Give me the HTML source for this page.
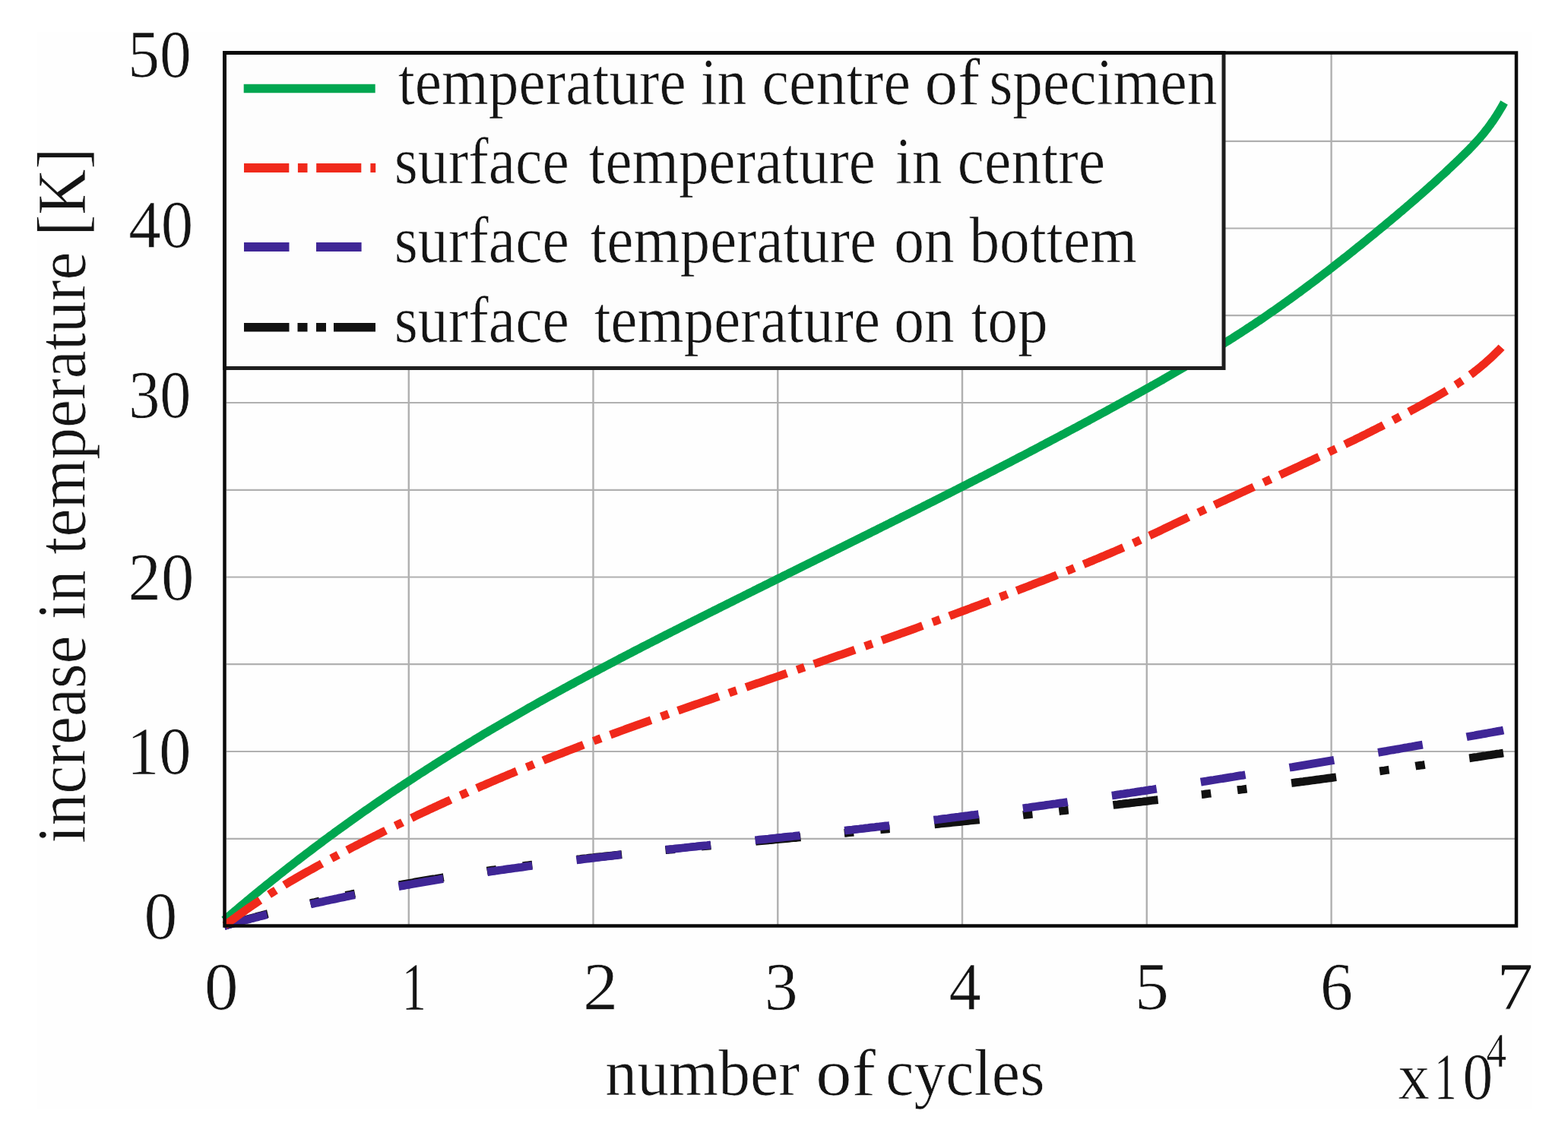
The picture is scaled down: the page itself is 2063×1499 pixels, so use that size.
<!DOCTYPE html>
<html><head><meta charset="utf-8"><title>increase in temperature vs number of cycles</title>
<style>html,body{margin:0;padding:0;background:#fff;}svg{display:block;}text{font-family:"Liberation Serif","Times New Roman",serif;fill:#141414;stroke:#fdfdfd;stroke-width:0.7px;}</style></head>
<body><svg width="2063" height="1499" viewBox="0 0 2063 1499" >
<rect x="49" y="42" width="1966" height="1418" fill="#fefefe"/>
<line x1="298" y1="1103.8" x2="1993" y2="1103.8" stroke="#b0b0b0" stroke-width="2.2"/>
<line x1="298" y1="989.0" x2="1993" y2="989.0" stroke="#b0b0b0" stroke-width="2.2"/>
<line x1="298" y1="874.2" x2="1993" y2="874.2" stroke="#b0b0b0" stroke-width="2.2"/>
<line x1="298" y1="759.5" x2="1993" y2="759.5" stroke="#b0b0b0" stroke-width="2.2"/>
<line x1="298" y1="644.8" x2="1993" y2="644.8" stroke="#b0b0b0" stroke-width="2.2"/>
<line x1="298" y1="530.0" x2="1993" y2="530.0" stroke="#b0b0b0" stroke-width="2.2"/>
<line x1="298" y1="415.2" x2="1993" y2="415.2" stroke="#b0b0b0" stroke-width="2.2"/>
<line x1="298" y1="300.5" x2="1993" y2="300.5" stroke="#b0b0b0" stroke-width="2.2"/>
<line x1="298" y1="185.8" x2="1993" y2="185.8" stroke="#b0b0b0" stroke-width="2.2"/>
<line x1="537.8" y1="71" x2="537.8" y2="1217" stroke="#b0b0b0" stroke-width="2.4"/>
<line x1="780.5" y1="71" x2="780.5" y2="1217" stroke="#b0b0b0" stroke-width="2.4"/>
<line x1="1023.3" y1="71" x2="1023.3" y2="1217" stroke="#b0b0b0" stroke-width="2.4"/>
<line x1="1266.0" y1="71" x2="1266.0" y2="1217" stroke="#b0b0b0" stroke-width="2.4"/>
<line x1="1508.8" y1="71" x2="1508.8" y2="1217" stroke="#b0b0b0" stroke-width="2.4"/>
<line x1="1751.6" y1="71" x2="1751.6" y2="1217" stroke="#b0b0b0" stroke-width="2.4"/>
<path d="M295.0 1218.5 L297.9 1217.7 L300.8 1216.8 L303.6 1216.0 L306.5 1215.1 L309.4 1214.3 L312.3 1213.5 L315.2 1212.7 L318.1 1211.9 L321.0 1211.1 L323.8 1210.3 L326.7 1209.5 L329.6 1208.7 L332.5 1207.9 L335.4 1207.1 L338.3 1206.3 L341.2 1205.5 L344.1 1204.8 L347.0 1204.0 L349.9 1203.2 L352.8 1202.5 L355.7 1201.7 L358.6 1201.0 L361.5 1200.2 L364.4 1199.5 L367.3 1198.7 L370.2 1198.0 L373.1 1197.3 L376.1 1196.5 L379.0 1195.8 L381.9 1195.1 L384.8 1194.4 L387.7 1193.7 L390.6 1193.0 L393.5 1192.3 L396.5 1191.6 L399.4 1190.9 L402.3 1190.2 L405.2 1189.5 L408.1 1188.8 L411.1 1188.1 L414.0 1187.5 L416.9 1186.8 L419.8 1186.1 L422.7 1185.5 L425.7 1184.8 L428.6 1184.1 L431.5 1183.5 L434.5 1182.8 L437.4 1182.2 L440.3 1181.6 L443.3 1180.9 L446.2 1180.3 L449.1 1179.7 L452.1 1179.0 L455.0 1178.4 L457.9 1177.8 L460.9 1177.2 L463.8 1176.6 L466.7 1176.0 L469.7 1175.4 L472.6 1174.8 L475.6 1174.2 L478.5 1173.6 L481.4 1173.0 L484.4 1172.4 L487.3 1171.8 L490.3 1171.3 L493.2 1170.7 L496.2 1170.1 L499.1 1169.6 L502.0 1169.0 L505.0 1168.4 L507.9 1167.9 L510.9 1167.3 L513.8 1166.8 L516.8 1166.2 L519.7 1165.7 L522.7 1165.1 L525.6 1164.6 L528.6 1164.1 L531.5 1163.5 L534.5 1163.0 L537.4 1162.5 L540.4 1162.0 L543.4 1161.5 L546.3 1160.9 L549.3 1160.4 L552.2 1159.9 L555.2 1159.4 L558.1 1158.9 L561.1 1158.4 L564.1 1157.9 L567.0 1157.4 L570.0 1156.9 L572.9 1156.5 L575.9 1156.0 L578.9 1155.5 L581.8 1155.0 L584.8 1154.5 L587.7 1154.1 L590.7 1153.6 L593.7 1153.1 L596.6 1152.7 L599.6 1152.2 L602.6 1151.8 L605.5 1151.3 L608.5 1150.8 L611.5 1150.4 L614.4 1149.9 L617.4 1149.5 L620.4 1149.1 L623.3 1148.6 L626.3 1148.2 L629.3 1147.8 L632.2 1147.3 L635.2 1146.9 L638.2 1146.5 L641.1 1146.0 L644.1 1145.6 L647.1 1145.2 L650.1 1144.8 L653.0 1144.4 L656.0 1144.0 L659.0 1143.6 L661.9 1143.2 L664.9 1142.7 L667.9 1142.3 L670.9 1141.9 L673.8 1141.5 L676.8 1141.2 L679.8 1140.8 L682.8 1140.4 L685.7 1140.0 L688.7 1139.6 L691.7 1139.2 L694.7 1138.8 L697.6 1138.4 L700.6 1138.1 L703.6 1137.7 L706.6 1137.3 L709.5 1136.9 L712.5 1136.6 L715.5 1136.2 L718.5 1135.8 L721.4 1135.5 L724.4 1135.1 L727.4 1134.8 L730.4 1134.4 L733.4 1134.0 L736.3 1133.7 L739.3 1133.3 L742.3 1133.0 L745.3 1132.6 L748.3 1132.3 L751.2 1131.9 L754.2 1131.6 L757.2 1131.3 L760.2 1130.9 L763.2 1130.6 L766.1 1130.2 L769.1 1129.9 L772.1 1129.6 L775.1 1129.2 L778.1 1128.9 L781.0 1128.6 L784.0 1128.2 L787.0 1127.9 L790.0 1127.6 L793.0 1127.3 L796.0 1126.9 L798.9 1126.6 L801.9 1126.3 L804.9 1126.0 L807.9 1125.7 L810.9 1125.3 L813.8 1125.0 L816.8 1124.7 L819.8 1124.4 L822.8 1124.1 L825.8 1123.8 L828.8 1123.5 L831.8 1123.2 L834.7 1122.8 L837.7 1122.5 L840.7 1122.2 L843.7 1121.9 L846.7 1121.6 L849.7 1121.3 L852.6 1121.0 L855.6 1120.7 L858.6 1120.4 L861.6 1120.1 L864.6 1119.8 L867.6 1119.5 L870.6 1119.2 L873.5 1118.9 L876.5 1118.6 L879.5 1118.3 L882.5 1118.0 L885.5 1117.8 L888.5 1117.5 L891.5 1117.2 L894.4 1116.9 L897.4 1116.6 L900.4 1116.3 L903.4 1116.0 L906.4 1115.7 L909.4 1115.4 L912.4 1115.1 L915.3 1114.9 L918.3 1114.6 L921.3 1114.3 L924.3 1114.0 L927.3 1113.7 L930.3 1113.4 L933.3 1113.1 L936.2 1112.8 L939.2 1112.6 L942.2 1112.3 L945.2 1112.0 L948.2 1111.7 L951.2 1111.4 L954.2 1111.1 L957.1 1110.9 L960.1 1110.6 L963.1 1110.3 L966.1 1110.0 L969.1 1109.7 L972.1 1109.5 L975.1 1109.2 L978.1 1108.9 L981.0 1108.6 L984.0 1108.3 L987.0 1108.1 L990.0 1107.8 L993.0 1107.5 L996.0 1107.2 L999.0 1106.9 L1002.0 1106.7 L1004.9 1106.4 L1007.9 1106.1 L1010.9 1105.8 L1013.9 1105.5 L1016.9 1105.3 L1019.9 1105.0 L1022.9 1104.7 L1025.8 1104.4 L1028.8 1104.1 L1031.8 1103.9 L1034.8 1103.6 L1037.8 1103.3 L1040.8 1103.0 L1043.8 1102.7 L1046.8 1102.5 L1049.7 1102.2 L1052.7 1101.9 L1055.7 1101.6 L1058.7 1101.4 L1061.7 1101.1 L1064.7 1100.8 L1067.7 1100.5 L1070.7 1100.2 L1073.6 1100.0 L1076.6 1099.7 L1079.6 1099.4 L1082.6 1099.1 L1085.6 1098.8 L1088.6 1098.6 L1091.6 1098.3 L1094.5 1098.0 L1097.5 1097.7 L1100.5 1097.4 L1103.5 1097.1 L1106.5 1096.9 L1109.5 1096.6 L1112.5 1096.3 L1115.5 1096.0 L1118.4 1095.7 L1121.4 1095.4 L1124.4 1095.2 L1127.4 1094.9 L1130.4 1094.6 L1133.4 1094.3 L1136.4 1094.0 L1139.3 1093.7 L1142.3 1093.4 L1145.3 1093.2 L1148.3 1092.9 L1151.3 1092.6 L1154.3 1092.3 L1157.3 1092.0 L1160.2 1091.7 L1163.2 1091.4 L1166.2 1091.1 L1169.2 1090.8 L1172.2 1090.6 L1175.2 1090.3 L1178.2 1090.0 L1181.1 1089.7 L1184.1 1089.4 L1187.1 1089.1 L1190.1 1088.8 L1193.1 1088.5 L1196.1 1088.2 L1199.1 1087.9 L1202.0 1087.6 L1205.0 1087.3 L1208.0 1087.0 L1211.0 1086.7 L1214.0 1086.4 L1217.0 1086.1 L1220.0 1085.8 L1222.9 1085.5 L1225.9 1085.2 L1228.9 1084.9 L1231.9 1084.6 L1234.9 1084.3 L1237.9 1084.0 L1240.9 1083.7 L1243.8 1083.4 L1246.8 1083.1 L1249.8 1082.8 L1252.8 1082.5 L1255.8 1082.2 L1258.8 1081.9 L1261.7 1081.6 L1264.7 1081.3 L1267.7 1081.0 L1270.7 1080.7 L1273.7 1080.3 L1276.7 1080.0 L1279.6 1079.7 L1282.6 1079.4 L1285.6 1079.1 L1288.6 1078.8 L1291.6 1078.5 L1294.6 1078.2 L1297.6 1077.9 L1300.5 1077.5 L1303.5 1077.2 L1306.5 1076.9 L1309.5 1076.6 L1312.5 1076.3 L1315.5 1076.0 L1318.4 1075.6 L1321.4 1075.3 L1324.4 1075.0 L1327.4 1074.7 L1330.4 1074.4 L1333.3 1074.1 L1336.3 1073.7 L1339.3 1073.4 L1342.3 1073.1 L1345.3 1072.8 L1348.3 1072.4 L1351.2 1072.1 L1354.2 1071.8 L1357.2 1071.5 L1360.2 1071.2 L1363.2 1070.8 L1366.2 1070.5 L1369.1 1070.2 L1372.1 1069.9 L1375.1 1069.5 L1378.1 1069.2 L1381.1 1068.9 L1384.1 1068.5 L1387.0 1068.2 L1390.0 1067.9 L1393.0 1067.6 L1396.0 1067.2 L1399.0 1066.9 L1401.9 1066.6 L1404.9 1066.2 L1407.9 1065.9 L1410.9 1065.6 L1413.9 1065.2 L1416.8 1064.9 L1419.8 1064.6 L1422.8 1064.2 L1425.8 1063.9 L1428.8 1063.6 L1431.8 1063.2 L1434.7 1062.9 L1437.7 1062.5 L1440.7 1062.2 L1443.7 1061.9 L1446.7 1061.5 L1449.6 1061.2 L1452.6 1060.8 L1455.6 1060.5 L1458.6 1060.2 L1461.6 1059.8 L1464.5 1059.5 L1467.5 1059.1 L1470.5 1058.8 L1473.5 1058.4 L1476.5 1058.1 L1479.4 1057.7 L1482.4 1057.4 L1485.4 1057.1 L1488.4 1056.7 L1491.4 1056.4 L1494.3 1056.0 L1497.3 1055.7 L1500.3 1055.3 L1503.3 1055.0 L1506.3 1054.6 L1509.2 1054.3 L1512.2 1053.9 L1515.2 1053.5 L1518.2 1053.2 L1521.2 1052.8 L1524.1 1052.5 L1527.1 1052.1 L1530.1 1051.8 L1533.1 1051.4 L1536.1 1051.1 L1539.0 1050.7 L1542.0 1050.3 L1545.0 1050.0 L1548.0 1049.6 L1550.9 1049.3 L1553.9 1048.9 L1556.9 1048.5 L1559.9 1048.2 L1562.9 1047.8 L1565.8 1047.5 L1568.8 1047.1 L1571.8 1046.7 L1574.8 1046.4 L1577.7 1046.0 L1580.7 1045.6 L1583.7 1045.3 L1586.7 1044.9 L1589.7 1044.5 L1592.6 1044.2 L1595.6 1043.8 L1598.6 1043.4 L1601.6 1043.1 L1604.5 1042.7 L1607.5 1042.3 L1610.5 1042.0 L1613.5 1041.6 L1616.4 1041.2 L1619.4 1040.8 L1622.4 1040.5 L1625.4 1040.1 L1628.4 1039.7 L1631.3 1039.3 L1634.3 1039.0 L1637.3 1038.6 L1640.3 1038.2 L1643.2 1037.8 L1646.2 1037.4 L1649.2 1037.1 L1652.2 1036.7 L1655.1 1036.3 L1658.1 1035.9 L1661.1 1035.5 L1664.1 1035.2 L1667.0 1034.8 L1670.0 1034.4 L1673.0 1034.0 L1676.0 1033.6 L1678.9 1033.2 L1681.9 1032.8 L1684.9 1032.5 L1687.9 1032.1 L1690.8 1031.7 L1693.8 1031.3 L1696.8 1030.9 L1699.8 1030.5 L1702.7 1030.1 L1705.7 1029.7 L1708.7 1029.3 L1711.7 1028.9 L1714.6 1028.6 L1717.6 1028.2 L1720.6 1027.8 L1723.6 1027.4 L1726.5 1027.0 L1729.5 1026.6 L1732.5 1026.2 L1735.5 1025.8 L1738.4 1025.4 L1741.4 1025.0 L1744.4 1024.6 L1747.3 1024.2 L1750.3 1023.8 L1753.3 1023.4 L1756.3 1023.0 L1759.2 1022.6 L1762.2 1022.2 L1765.2 1021.8 L1768.2 1021.4 L1771.1 1021.0 L1774.1 1020.5 L1777.1 1020.1 L1780.0 1019.7 L1783.0 1019.3 L1786.0 1018.9 L1789.0 1018.5 L1791.9 1018.1 L1794.9 1017.7 L1797.9 1017.3 L1800.9 1016.9 L1803.8 1016.4 L1806.8 1016.0 L1809.8 1015.6 L1812.7 1015.2 L1815.7 1014.8 L1818.7 1014.4 L1821.6 1014.0 L1824.6 1013.5 L1827.6 1013.1 L1830.6 1012.7 L1833.5 1012.3 L1836.5 1011.9 L1839.5 1011.4 L1842.4 1011.0 L1845.4 1010.6 L1848.4 1010.2 L1851.4 1009.7 L1854.3 1009.3 L1857.3 1008.9 L1860.3 1008.5 L1863.2 1008.0 L1866.2 1007.6 L1869.2 1007.2 L1872.1 1006.8 L1875.1 1006.3 L1878.1 1005.9 L1881.0 1005.5 L1884.0 1005.0 L1887.0 1004.6 L1890.0 1004.2 L1892.9 1003.7 L1895.9 1003.3 L1898.9 1002.9 L1901.8 1002.4 L1904.8 1002.0 L1907.8 1001.6 L1910.7 1001.1 L1913.7 1000.7 L1916.7 1000.2 L1919.6 999.8 L1922.6 999.4 L1925.6 998.9 L1928.5 998.5 L1931.5 998.0 L1934.5 997.6 L1937.4 997.2 L1940.4 996.7 L1943.4 996.3 L1946.3 995.8 L1949.3 995.4 L1952.3 994.9 L1955.2 994.5 L1958.2 994.0 L1961.2 993.6 L1964.1 993.1 L1967.1 992.7 L1970.1 992.2 L1973.0 991.8 L1976.0 991.3 L1978.0 991.0" fill="none" stroke="#111111" stroke-width="10.8" stroke-dasharray="59.5 57.65 12.5 35.1 12.5 59.15"/>
<path d="M295.0 1218.5 L297.9 1217.7 L300.8 1216.9 L303.7 1216.1 L306.6 1215.3 L309.5 1214.5 L312.4 1213.7 L315.3 1212.9 L318.2 1212.2 L321.1 1211.4 L324.0 1210.6 L326.9 1209.9 L329.8 1209.1 L332.7 1208.4 L335.6 1207.6 L338.5 1206.9 L341.4 1206.1 L344.3 1205.4 L347.2 1204.7 L350.1 1203.9 L353.0 1203.2 L355.9 1202.5 L358.8 1201.8 L361.8 1201.1 L364.7 1200.3 L367.6 1199.6 L370.5 1198.9 L373.4 1198.2 L376.3 1197.5 L379.3 1196.8 L382.2 1196.2 L385.1 1195.5 L388.0 1194.8 L390.9 1194.1 L393.9 1193.4 L396.8 1192.8 L399.7 1192.1 L402.6 1191.4 L405.6 1190.8 L408.5 1190.1 L411.4 1189.4 L414.3 1188.8 L417.3 1188.1 L420.2 1187.5 L423.1 1186.9 L426.1 1186.2 L429.0 1185.6 L431.9 1184.9 L434.9 1184.3 L437.8 1183.7 L440.7 1183.1 L443.7 1182.5 L446.6 1181.8 L449.5 1181.2 L452.5 1180.6 L455.4 1180.0 L458.3 1179.4 L461.3 1178.8 L464.2 1178.2 L467.2 1177.6 L470.1 1177.0 L473.0 1176.4 L476.0 1175.9 L478.9 1175.3 L481.9 1174.7 L484.8 1174.1 L487.8 1173.5 L490.7 1173.0 L493.7 1172.4 L496.6 1171.9 L499.5 1171.3 L502.5 1170.7 L505.4 1170.2 L508.4 1169.6 L511.3 1169.1 L514.3 1168.5 L517.2 1168.0 L520.2 1167.5 L523.1 1166.9 L526.1 1166.4 L529.0 1165.8 L532.0 1165.3 L534.9 1164.8 L537.9 1164.3 L540.9 1163.8 L543.8 1163.2 L546.8 1162.7 L549.7 1162.2 L552.7 1161.7 L555.6 1161.2 L558.6 1160.7 L561.6 1160.2 L564.5 1159.7 L567.5 1159.2 L570.4 1158.7 L573.4 1158.2 L576.3 1157.7 L579.3 1157.2 L582.3 1156.7 L585.2 1156.3 L588.2 1155.8 L591.1 1155.3 L594.1 1154.8 L597.1 1154.4 L600.0 1153.9 L603.0 1153.4 L606.0 1153.0 L608.9 1152.5 L611.9 1152.0 L614.9 1151.6 L617.8 1151.1 L620.8 1150.7 L623.8 1150.2 L626.7 1149.8 L629.7 1149.3 L632.7 1148.9 L635.6 1148.4 L638.6 1148.0 L641.6 1147.6 L644.5 1147.1 L647.5 1146.7 L650.5 1146.3 L653.4 1145.8 L656.4 1145.4 L659.4 1145.0 L662.3 1144.6 L665.3 1144.1 L668.3 1143.7 L671.3 1143.3 L674.2 1142.9 L677.2 1142.5 L680.2 1142.1 L683.1 1141.7 L686.1 1141.3 L689.1 1140.8 L692.1 1140.4 L695.0 1140.0 L698.0 1139.6 L701.0 1139.2 L703.9 1138.8 L706.9 1138.5 L709.9 1138.1 L712.9 1137.7 L715.8 1137.3 L718.8 1136.9 L721.8 1136.5 L724.8 1136.1 L727.7 1135.7 L730.7 1135.4 L733.7 1135.0 L736.7 1134.6 L739.6 1134.2 L742.6 1133.8 L745.6 1133.5 L748.6 1133.1 L751.6 1132.7 L754.5 1132.4 L757.5 1132.0 L760.5 1131.6 L763.5 1131.3 L766.4 1130.9 L769.4 1130.5 L772.4 1130.2 L775.4 1129.8 L778.4 1129.5 L781.3 1129.1 L784.3 1128.7 L787.3 1128.4 L790.3 1128.0 L793.2 1127.7 L796.2 1127.3 L799.2 1127.0 L802.2 1126.6 L805.2 1126.3 L808.1 1125.9 L811.1 1125.6 L814.1 1125.2 L817.1 1124.9 L820.1 1124.6 L823.0 1124.2 L826.0 1123.9 L829.0 1123.5 L832.0 1123.2 L835.0 1122.9 L838.0 1122.5 L840.9 1122.2 L843.9 1121.9 L846.9 1121.5 L849.9 1121.2 L852.9 1120.9 L855.8 1120.5 L858.8 1120.2 L861.8 1119.9 L864.8 1119.5 L867.8 1119.2 L870.7 1118.9 L873.7 1118.6 L876.7 1118.2 L879.7 1117.9 L882.7 1117.6 L885.7 1117.3 L888.6 1116.9 L891.6 1116.6 L894.6 1116.3 L897.6 1116.0 L900.6 1115.7 L903.6 1115.3 L906.5 1115.0 L909.5 1114.7 L912.5 1114.4 L915.5 1114.1 L918.5 1113.7 L921.5 1113.4 L924.4 1113.1 L927.4 1112.8 L930.4 1112.5 L933.4 1112.1 L936.4 1111.8 L939.4 1111.5 L942.3 1111.2 L945.3 1110.9 L948.3 1110.6 L951.3 1110.3 L954.3 1109.9 L957.3 1109.6 L960.2 1109.3 L963.2 1109.0 L966.2 1108.7 L969.2 1108.4 L972.2 1108.0 L975.2 1107.7 L978.1 1107.4 L981.1 1107.1 L984.1 1106.8 L987.1 1106.5 L990.1 1106.2 L993.1 1105.8 L996.0 1105.5 L999.0 1105.2 L1002.0 1104.9 L1005.0 1104.6 L1008.0 1104.3 L1011.0 1104.0 L1013.9 1103.6 L1016.9 1103.3 L1019.9 1103.0 L1022.9 1102.7 L1025.9 1102.4 L1028.9 1102.1 L1031.8 1101.7 L1034.8 1101.4 L1037.8 1101.1 L1040.8 1100.8 L1043.8 1100.5 L1046.8 1100.1 L1049.7 1099.8 L1052.7 1099.5 L1055.7 1099.2 L1058.7 1098.9 L1061.7 1098.5 L1064.6 1098.2 L1067.6 1097.9 L1070.6 1097.6 L1073.6 1097.3 L1076.6 1096.9 L1079.6 1096.6 L1082.5 1096.3 L1085.5 1096.0 L1088.5 1095.6 L1091.5 1095.3 L1094.5 1095.0 L1097.5 1094.6 L1100.4 1094.3 L1103.4 1094.0 L1106.4 1093.6 L1109.4 1093.3 L1112.4 1093.0 L1115.3 1092.6 L1118.3 1092.3 L1121.3 1092.0 L1124.3 1091.6 L1127.3 1091.3 L1130.2 1091.0 L1133.2 1090.6 L1136.2 1090.3 L1139.2 1089.9 L1142.2 1089.6 L1145.2 1089.2 L1148.1 1088.9 L1151.1 1088.6 L1154.1 1088.2 L1157.1 1087.9 L1160.1 1087.5 L1163.0 1087.2 L1166.0 1086.8 L1169.0 1086.5 L1172.0 1086.1 L1174.9 1085.8 L1177.9 1085.4 L1180.9 1085.0 L1183.9 1084.7 L1186.9 1084.3 L1189.8 1084.0 L1192.8 1083.6 L1195.8 1083.2 L1198.8 1082.9 L1201.8 1082.5 L1204.7 1082.2 L1207.7 1081.8 L1210.7 1081.4 L1213.7 1081.1 L1216.6 1080.7 L1219.6 1080.3 L1222.6 1080.0 L1225.6 1079.6 L1228.6 1079.2 L1231.5 1078.8 L1234.5 1078.5 L1237.5 1078.1 L1240.5 1077.7 L1243.4 1077.3 L1246.4 1077.0 L1249.4 1076.6 L1252.4 1076.2 L1255.3 1075.8 L1258.3 1075.4 L1261.3 1075.1 L1264.3 1074.7 L1267.2 1074.3 L1270.2 1073.9 L1273.2 1073.5 L1276.2 1073.1 L1279.1 1072.7 L1282.1 1072.4 L1285.1 1072.0 L1288.1 1071.6 L1291.0 1071.2 L1294.0 1070.8 L1297.0 1070.4 L1300.0 1070.0 L1302.9 1069.6 L1305.9 1069.2 L1308.9 1068.8 L1311.9 1068.4 L1314.8 1068.0 L1317.8 1067.6 L1320.8 1067.2 L1323.7 1066.8 L1326.7 1066.4 L1329.7 1066.0 L1332.7 1065.6 L1335.6 1065.2 L1338.6 1064.8 L1341.6 1064.4 L1344.6 1064.0 L1347.5 1063.6 L1350.5 1063.2 L1353.5 1062.8 L1356.4 1062.3 L1359.4 1061.9 L1362.4 1061.5 L1365.4 1061.1 L1368.3 1060.7 L1371.3 1060.3 L1374.3 1059.9 L1377.2 1059.4 L1380.2 1059.0 L1383.2 1058.6 L1386.2 1058.2 L1389.1 1057.8 L1392.1 1057.3 L1395.1 1056.9 L1398.0 1056.5 L1401.0 1056.1 L1404.0 1055.7 L1406.9 1055.2 L1409.9 1054.8 L1412.9 1054.4 L1415.9 1053.9 L1418.8 1053.5 L1421.8 1053.1 L1424.8 1052.7 L1427.7 1052.2 L1430.7 1051.8 L1433.7 1051.4 L1436.6 1050.9 L1439.6 1050.5 L1442.6 1050.1 L1445.5 1049.6 L1448.5 1049.2 L1451.5 1048.8 L1454.4 1048.3 L1457.4 1047.9 L1460.4 1047.4 L1463.4 1047.0 L1466.3 1046.6 L1469.3 1046.1 L1472.3 1045.7 L1475.2 1045.2 L1478.2 1044.8 L1481.2 1044.3 L1484.1 1043.9 L1487.1 1043.5 L1490.1 1043.0 L1493.0 1042.6 L1496.0 1042.1 L1499.0 1041.7 L1501.9 1041.2 L1504.9 1040.8 L1507.9 1040.3 L1510.8 1039.9 L1513.8 1039.4 L1516.8 1039.0 L1519.7 1038.5 L1522.7 1038.0 L1525.6 1037.6 L1528.6 1037.1 L1531.6 1036.7 L1534.5 1036.2 L1537.5 1035.8 L1540.5 1035.3 L1543.4 1034.8 L1546.4 1034.4 L1549.4 1033.9 L1552.3 1033.5 L1555.3 1033.0 L1558.3 1032.5 L1561.2 1032.1 L1564.2 1031.6 L1567.1 1031.1 L1570.1 1030.7 L1573.1 1030.2 L1576.0 1029.7 L1579.0 1029.3 L1582.0 1028.8 L1584.9 1028.3 L1587.9 1027.9 L1590.9 1027.4 L1593.8 1026.9 L1596.8 1026.5 L1599.7 1026.0 L1602.7 1025.5 L1605.7 1025.0 L1608.6 1024.6 L1611.6 1024.1 L1614.6 1023.6 L1617.5 1023.1 L1620.5 1022.7 L1623.4 1022.2 L1626.4 1021.7 L1629.4 1021.2 L1632.3 1020.7 L1635.3 1020.3 L1638.2 1019.8 L1641.2 1019.3 L1644.2 1018.8 L1647.1 1018.3 L1650.1 1017.9 L1653.1 1017.4 L1656.0 1016.9 L1659.0 1016.4 L1661.9 1015.9 L1664.9 1015.4 L1667.9 1014.9 L1670.8 1014.5 L1673.8 1014.0 L1676.7 1013.5 L1679.7 1013.0 L1682.7 1012.5 L1685.6 1012.0 L1688.6 1011.5 L1691.5 1011.0 L1694.5 1010.5 L1697.5 1010.0 L1700.4 1009.6 L1703.4 1009.1 L1706.3 1008.6 L1709.3 1008.1 L1712.2 1007.6 L1715.2 1007.1 L1718.2 1006.6 L1721.1 1006.1 L1724.1 1005.6 L1727.0 1005.1 L1730.0 1004.6 L1733.0 1004.1 L1735.9 1003.6 L1738.9 1003.1 L1741.8 1002.6 L1744.8 1002.1 L1747.7 1001.6 L1750.7 1001.1 L1753.7 1000.6 L1756.6 1000.1 L1759.6 999.6 L1762.5 999.1 L1765.5 998.6 L1768.5 998.1 L1771.4 997.6 L1774.4 997.0 L1777.3 996.5 L1780.3 996.0 L1783.2 995.5 L1786.2 995.0 L1789.1 994.5 L1792.1 994.0 L1795.1 993.5 L1798.0 993.0 L1801.0 992.5 L1803.9 992.0 L1806.9 991.4 L1809.8 990.9 L1812.8 990.4 L1815.8 989.9 L1818.7 989.4 L1821.7 988.9 L1824.6 988.4 L1827.6 987.8 L1830.5 987.3 L1833.5 986.8 L1836.4 986.3 L1839.4 985.8 L1842.4 985.3 L1845.3 984.7 L1848.3 984.2 L1851.2 983.7 L1854.2 983.2 L1857.1 982.7 L1860.1 982.2 L1863.0 981.6 L1866.0 981.1 L1868.9 980.6 L1871.9 980.1 L1874.9 979.5 L1877.8 979.0 L1880.8 978.5 L1883.7 978.0 L1886.7 977.5 L1889.6 976.9 L1892.6 976.4 L1895.5 975.9 L1898.5 975.4 L1901.4 974.8 L1904.4 974.3 L1907.3 973.8 L1910.3 973.2 L1913.3 972.7 L1916.2 972.2 L1919.2 971.7 L1922.1 971.1 L1925.1 970.6 L1928.0 970.1 L1931.0 969.5 L1933.9 969.0 L1936.9 968.5 L1939.8 968.0 L1942.8 967.4 L1945.7 966.9 L1948.7 966.4 L1951.6 965.8 L1954.6 965.3 L1957.5 964.8 L1960.5 964.2 L1963.4 963.7 L1966.4 963.2 L1969.4 962.6 L1972.3 962.1 L1975.3 961.6 L1978.1 961.0" fill="none" stroke="#3f2696" stroke-width="10.8" stroke-dasharray="59.5 58.78" stroke-dashoffset="1.17"/>
<path d="M295.0 1211.0 L297.3 1209.0 L299.6 1207.1 L301.8 1205.2 L304.1 1203.2 L306.4 1201.3 L308.7 1199.3 L311.0 1197.4 L313.3 1195.5 L315.6 1193.5 L317.9 1191.6 L320.2 1189.7 L322.5 1187.8 L324.8 1185.8 L327.1 1183.9 L329.4 1182.0 L331.7 1180.1 L334.0 1178.2 L336.3 1176.3 L338.7 1174.4 L341.0 1172.5 L343.3 1170.6 L345.6 1168.7 L348.0 1166.8 L350.3 1164.9 L352.6 1163.1 L355.0 1161.2 L357.3 1159.3 L359.6 1157.4 L362.0 1155.6 L364.3 1153.7 L366.7 1151.8 L369.0 1150.0 L371.4 1148.1 L373.7 1146.2 L376.1 1144.4 L378.4 1142.5 L380.8 1140.7 L383.2 1138.9 L385.5 1137.0 L387.9 1135.2 L390.3 1133.3 L392.7 1131.5 L395.0 1129.7 L397.4 1127.9 L399.8 1126.0 L402.2 1124.2 L404.6 1122.4 L407.0 1120.6 L409.3 1118.8 L411.7 1117.0 L414.1 1115.2 L416.5 1113.4 L418.9 1111.6 L421.3 1109.8 L423.7 1108.0 L426.1 1106.2 L428.5 1104.4 L431.0 1102.6 L433.4 1100.8 L435.8 1099.1 L438.2 1097.3 L440.6 1095.5 L443.0 1093.7 L445.5 1092.0 L447.9 1090.2 L450.3 1088.5 L452.8 1086.7 L455.2 1085.0 L457.6 1083.2 L460.1 1081.5 L462.5 1079.7 L464.9 1078.0 L467.4 1076.2 L469.8 1074.5 L472.3 1072.8 L474.7 1071.0 L477.2 1069.3 L479.6 1067.6 L482.1 1065.9 L484.6 1064.2 L487.0 1062.4 L489.5 1060.7 L491.9 1059.0 L494.4 1057.3 L496.9 1055.6 L499.4 1053.9 L501.8 1052.2 L504.3 1050.5 L506.8 1048.8 L509.3 1047.2 L511.7 1045.5 L514.2 1043.8 L516.7 1042.1 L519.2 1040.4 L521.7 1038.8 L524.2 1037.1 L526.7 1035.4 L529.2 1033.8 L531.7 1032.1 L534.2 1030.5 L536.7 1028.8 L539.2 1027.2 L541.7 1025.5 L544.2 1023.9 L546.7 1022.2 L549.2 1020.6 L551.7 1019.0 L554.2 1017.3 L556.8 1015.7 L559.3 1014.1 L561.8 1012.4 L564.3 1010.8 L566.9 1009.2 L569.4 1007.6 L571.9 1006.0 L574.4 1004.4 L577.0 1002.8 L579.5 1001.2 L582.0 999.6 L584.6 998.0 L587.1 996.4 L589.7 994.8 L592.2 993.2 L594.8 991.6 L597.3 990.0 L599.8 988.4 L602.4 986.9 L605.0 985.3 L607.5 983.7 L610.1 982.2 L612.6 980.6 L615.2 979.0 L617.7 977.5 L620.3 975.9 L622.9 974.4 L625.4 972.8 L628.0 971.3 L630.6 969.7 L633.1 968.2 L635.7 966.6 L638.3 965.1 L640.9 963.6 L643.4 962.0 L646.0 960.5 L648.6 959.0 L651.2 957.4 L653.8 955.9 L656.4 954.4 L659.0 952.9 L661.5 951.4 L664.1 949.9 L666.7 948.4 L669.3 946.9 L671.9 945.4 L674.5 943.9 L677.1 942.4 L679.7 940.9 L682.3 939.4 L684.9 937.9 L687.5 936.4 L690.1 934.9 L692.7 933.4 L695.3 931.9 L698.0 930.5 L700.6 929.0 L703.2 927.5 L705.8 926.1 L708.4 924.6 L711.0 923.1 L713.6 921.7 L716.3 920.2 L718.9 918.7 L721.5 917.3 L724.1 915.8 L726.8 914.4 L729.4 912.9 L732.0 911.5 L734.6 910.0 L737.3 908.6 L739.9 907.2 L742.5 905.7 L745.2 904.3 L747.8 902.8 L750.4 901.4 L753.1 900.0 L755.7 898.6 L758.3 897.1 L761.0 895.7 L763.6 894.3 L766.3 892.9 L768.9 891.4 L771.6 890.0 L774.2 888.6 L776.8 887.2 L779.5 885.8 L782.1 884.4 L784.8 883.0 L787.4 881.6 L790.1 880.2 L792.7 878.8 L795.4 877.4 L798.0 876.0 L800.7 874.6 L803.4 873.2 L806.0 871.8 L808.7 870.4 L811.3 869.0 L814.0 867.6 L816.6 866.2 L819.3 864.8 L822.0 863.4 L824.6 862.1 L827.3 860.7 L830.0 859.3 L832.6 857.9 L835.3 856.5 L837.9 855.2 L840.6 853.8 L843.3 852.4 L845.9 851.0 L848.6 849.7 L851.3 848.3 L853.9 846.9 L856.6 845.6 L859.3 844.2 L862.0 842.8 L864.6 841.5 L867.3 840.1 L870.0 838.7 L872.6 837.4 L875.3 836.0 L878.0 834.6 L880.7 833.3 L883.3 831.9 L886.0 830.6 L888.7 829.2 L891.4 827.9 L894.0 826.5 L896.7 825.1 L899.4 823.8 L902.1 822.4 L904.7 821.1 L907.4 819.7 L910.1 818.4 L912.8 817.0 L915.5 815.7 L918.1 814.3 L920.8 813.0 L923.5 811.6 L926.2 810.3 L928.9 808.9 L931.5 807.6 L934.2 806.2 L936.9 804.9 L939.6 803.5 L942.3 802.2 L944.9 800.9 L947.6 799.5 L950.3 798.2 L953.0 796.8 L955.7 795.5 L958.4 794.1 L961.0 792.8 L963.7 791.5 L966.4 790.1 L969.1 788.8 L971.8 787.4 L974.5 786.1 L977.1 784.8 L979.8 783.4 L982.5 782.1 L985.2 780.7 L987.9 779.4 L990.6 778.1 L993.2 776.7 L995.9 775.4 L998.6 774.0 L1001.3 772.7 L1004.0 771.4 L1006.7 770.0 L1009.4 768.7 L1012.0 767.4 L1014.7 766.0 L1017.4 764.7 L1020.1 763.4 L1022.8 762.0 L1025.5 760.7 L1028.2 759.4 L1030.9 758.0 L1033.5 756.7 L1036.2 755.4 L1038.9 754.0 L1041.6 752.7 L1044.3 751.3 L1047.0 750.0 L1049.7 748.7 L1052.3 747.3 L1055.0 746.0 L1057.7 744.7 L1060.4 743.3 L1063.1 742.0 L1065.8 740.7 L1068.5 739.3 L1071.2 738.0 L1073.8 736.7 L1076.5 735.3 L1079.2 734.0 L1081.9 732.7 L1084.6 731.3 L1087.3 730.0 L1090.0 728.7 L1092.7 727.3 L1095.3 726.0 L1098.0 724.7 L1100.7 723.3 L1103.4 722.0 L1106.1 720.7 L1108.8 719.3 L1111.5 718.0 L1114.2 716.7 L1116.8 715.3 L1119.5 714.0 L1122.2 712.7 L1124.9 711.3 L1127.6 710.0 L1130.3 708.7 L1133.0 707.3 L1135.6 706.0 L1138.3 704.7 L1141.0 703.3 L1143.7 702.0 L1146.4 700.6 L1149.1 699.3 L1151.8 698.0 L1154.4 696.6 L1157.1 695.3 L1159.8 693.9 L1162.5 692.6 L1165.2 691.3 L1167.9 689.9 L1170.6 688.6 L1173.2 687.2 L1175.9 685.9 L1178.6 684.6 L1181.3 683.2 L1184.0 681.9 L1186.6 680.5 L1189.3 679.2 L1192.0 677.8 L1194.7 676.5 L1197.4 675.2 L1200.1 673.8 L1202.7 672.5 L1205.4 671.1 L1208.1 669.8 L1210.8 668.4 L1213.5 667.1 L1216.1 665.7 L1218.8 664.4 L1221.5 663.0 L1224.2 661.7 L1226.9 660.3 L1229.5 659.0 L1232.2 657.6 L1234.9 656.3 L1237.6 654.9 L1240.2 653.6 L1242.9 652.2 L1245.6 650.9 L1248.3 649.5 L1251.0 648.1 L1253.6 646.8 L1256.3 645.4 L1259.0 644.1 L1261.7 642.7 L1264.3 641.3 L1267.0 640.0 L1269.7 638.6 L1272.3 637.3 L1275.0 635.9 L1277.7 634.5 L1280.4 633.2 L1283.0 631.8 L1285.7 630.4 L1288.4 629.1 L1291.0 627.7 L1293.7 626.3 L1296.4 625.0 L1299.1 623.6 L1301.7 622.2 L1304.4 620.8 L1307.1 619.5 L1309.7 618.1 L1312.4 616.7 L1315.1 615.3 L1317.7 614.0 L1320.4 612.6 L1323.1 611.2 L1325.7 609.8 L1328.4 608.5 L1331.0 607.1 L1333.7 605.7 L1336.4 604.3 L1339.0 602.9 L1341.7 601.5 L1344.4 600.1 L1347.0 598.8 L1349.7 597.4 L1352.3 596.0 L1355.0 594.6 L1357.6 593.2 L1360.3 591.8 L1363.0 590.4 L1365.6 589.0 L1368.3 587.6 L1370.9 586.2 L1373.6 584.8 L1376.2 583.4 L1378.9 582.0 L1381.5 580.6 L1384.2 579.2 L1386.8 577.8 L1389.5 576.4 L1392.1 575.0 L1394.8 573.6 L1397.4 572.2 L1400.1 570.8 L1402.7 569.4 L1405.4 567.9 L1408.0 566.5 L1410.7 565.1 L1413.3 563.7 L1416.0 562.3 L1418.6 560.9 L1421.3 559.4 L1423.9 558.0 L1426.5 556.6 L1429.2 555.2 L1431.8 553.8 L1434.5 552.3 L1437.1 550.9 L1439.7 549.5 L1442.4 548.0 L1445.0 546.6 L1447.6 545.2 L1450.3 543.7 L1452.9 542.3 L1455.6 540.9 L1458.2 539.4 L1460.8 538.0 L1463.4 536.5 L1466.1 535.1 L1468.7 533.7 L1471.3 532.2 L1474.0 530.8 L1476.6 529.3 L1479.2 527.9 L1481.8 526.4 L1484.5 525.0 L1487.1 523.5 L1489.7 522.1 L1492.3 520.6 L1495.0 519.1 L1497.6 517.7 L1500.2 516.2 L1502.8 514.8 L1505.5 513.3 L1508.1 511.8 L1510.7 510.4 L1513.3 508.9 L1515.9 507.4 L1518.5 506.0 L1521.1 504.5 L1523.8 503.0 L1526.4 501.5 L1529.0 500.1 L1531.6 498.6 L1534.2 497.1 L1536.8 495.6 L1539.4 494.1 L1542.0 492.6 L1544.6 491.1 L1547.2 489.6 L1549.8 488.1 L1552.4 486.6 L1555.0 485.1 L1557.6 483.6 L1560.2 482.1 L1562.8 480.6 L1565.4 479.1 L1568.0 477.6 L1570.6 476.0 L1573.1 474.5 L1575.7 473.0 L1578.3 471.4 L1580.9 469.9 L1583.5 468.4 L1586.0 466.8 L1588.6 465.3 L1591.2 463.7 L1593.7 462.2 L1596.3 460.6 L1598.9 459.0 L1601.4 457.5 L1604.0 455.9 L1606.5 454.3 L1609.1 452.7 L1611.6 451.1 L1614.2 449.6 L1616.7 448.0 L1619.3 446.4 L1621.8 444.8 L1624.3 443.1 L1626.9 441.5 L1629.4 439.9 L1631.9 438.3 L1634.4 436.7 L1636.9 435.0 L1639.5 433.4 L1642.0 431.7 L1644.5 430.1 L1647.0 428.4 L1649.5 426.8 L1652.0 425.1 L1654.5 423.4 L1657.0 421.8 L1659.5 420.1 L1661.9 418.4 L1664.4 416.7 L1666.9 415.0 L1669.4 413.3 L1671.8 411.6 L1674.3 409.9 L1676.8 408.2 L1679.2 406.5 L1681.7 404.7 L1684.1 403.0 L1686.6 401.3 L1689.0 399.5 L1691.5 397.8 L1693.9 396.0 L1696.4 394.3 L1698.8 392.5 L1701.2 390.8 L1703.7 389.0 L1706.1 387.2 L1708.5 385.4 L1710.9 383.7 L1713.3 381.9 L1715.7 380.1 L1718.2 378.3 L1720.6 376.5 L1723.0 374.7 L1725.4 372.9 L1727.8 371.1 L1730.2 369.3 L1732.6 367.5 L1734.9 365.7 L1737.3 363.9 L1739.7 362.0 L1742.1 360.2 L1744.5 358.4 L1746.9 356.6 L1749.2 354.7 L1751.6 352.9 L1754.0 351.0 L1756.3 349.2 L1758.7 347.3 L1761.1 345.5 L1763.4 343.6 L1765.8 341.8 L1768.1 339.9 L1770.5 338.1 L1772.9 336.2 L1775.2 334.3 L1777.5 332.5 L1779.9 330.6 L1782.2 328.7 L1784.6 326.8 L1786.9 324.9 L1789.3 323.1 L1791.6 321.2 L1793.9 319.3 L1796.2 317.4 L1798.6 315.5 L1800.9 313.6 L1803.2 311.7 L1805.6 309.8 L1807.9 307.9 L1810.2 306.0 L1812.5 304.1 L1814.8 302.2 L1817.1 300.3 L1819.5 298.4 L1821.8 296.5 L1824.1 294.5 L1826.4 292.6 L1828.7 290.7 L1831.0 288.8 L1833.3 286.8 L1835.6 284.9 L1837.9 283.0 L1840.2 281.0 L1842.5 279.1 L1844.8 277.2 L1847.1 275.2 L1849.3 273.3 L1851.6 271.3 L1853.9 269.4 L1856.2 267.4 L1858.4 265.4 L1860.7 263.5 L1863.0 261.5 L1865.2 259.5 L1867.5 257.6 L1869.8 255.6 L1872.0 253.6 L1874.3 251.6 L1876.5 249.6 L1878.8 247.6 L1881.0 245.6 L1883.2 243.6 L1885.5 241.6 L1887.7 239.6 L1889.9 237.6 L1892.1 235.6 L1894.3 233.5 L1896.5 231.5 L1898.8 229.5 L1901.0 227.4 L1903.2 225.4 L1905.3 223.3 L1907.5 221.3 L1909.7 219.2 L1911.9 217.1 L1914.1 215.1 L1916.2 213.0 L1918.4 210.9 L1920.6 208.8 L1922.7 206.7 L1924.9 204.6 L1927.0 202.5 L1929.1 200.4 L1931.3 198.3 L1933.4 196.1 L1935.5 194.0 L1937.6 191.8 L1939.6 189.6 L1941.7 187.4 L1943.7 185.1 L1945.7 182.9 L1947.7 180.6 L1949.6 178.3 L1951.6 176.0 L1953.5 173.6 L1955.3 171.2 L1957.2 168.9 L1959.0 166.4 L1960.8 164.0 L1962.5 161.5 L1964.3 159.0 L1966.0 156.5 L1967.6 154.0 L1969.3 151.5 L1970.9 148.9 L1972.5 146.3 L1974.0 143.7 L1975.6 141.1 L1977.1 138.5 L1978.5 135.9 L1979.0 135.0" fill="none" stroke="#00a650" stroke-width="11"/>
<path d="M295.0 1218.5 L297.4 1216.7 L299.8 1214.9 L302.1 1213.1 L304.5 1211.3 L307.0 1209.5 L309.4 1207.7 L311.8 1205.9 L314.2 1204.2 L316.6 1202.4 L319.1 1200.7 L321.5 1199.0 L324.0 1197.2 L326.4 1195.5 L328.9 1193.8 L331.4 1192.1 L333.8 1190.4 L336.3 1188.8 L338.8 1187.1 L341.3 1185.4 L343.8 1183.8 L346.3 1182.1 L348.8 1180.5 L351.4 1178.9 L353.9 1177.3 L356.4 1175.7 L358.9 1174.1 L361.5 1172.5 L364.0 1170.9 L366.6 1169.3 L369.1 1167.8 L371.7 1166.2 L374.3 1164.6 L376.8 1163.1 L379.4 1161.6 L382.0 1160.0 L384.6 1158.5 L387.2 1157.0 L389.7 1155.5 L392.3 1154.0 L394.9 1152.5 L397.5 1151.0 L400.1 1149.5 L402.8 1148.0 L405.4 1146.6 L408.0 1145.1 L410.6 1143.7 L413.2 1142.2 L415.8 1140.7 L418.5 1139.3 L421.1 1137.9 L423.7 1136.4 L426.4 1135.0 L429.0 1133.6 L431.7 1132.1 L434.3 1130.7 L436.9 1129.3 L439.6 1127.9 L442.2 1126.5 L444.9 1125.1 L447.5 1123.7 L450.2 1122.3 L452.8 1120.9 L455.5 1119.5 L458.2 1118.1 L460.8 1116.7 L463.5 1115.3 L466.1 1114.0 L468.8 1112.6 L471.5 1111.2 L474.1 1109.8 L476.8 1108.5 L479.5 1107.1 L482.1 1105.7 L484.8 1104.4 L487.5 1103.0 L490.2 1101.7 L492.8 1100.3 L495.5 1099.0 L498.2 1097.6 L500.9 1096.3 L503.6 1094.9 L506.3 1093.6 L508.9 1092.3 L511.6 1091.0 L514.3 1089.6 L517.0 1088.3 L519.7 1087.0 L522.4 1085.7 L525.1 1084.4 L527.8 1083.1 L530.5 1081.7 L533.2 1080.4 L535.9 1079.1 L538.6 1077.8 L541.3 1076.6 L544.0 1075.3 L546.7 1074.0 L549.4 1072.7 L552.2 1071.4 L554.9 1070.1 L557.6 1068.9 L560.3 1067.6 L563.0 1066.3 L565.7 1065.0 L568.5 1063.8 L571.2 1062.5 L573.9 1061.3 L576.6 1060.0 L579.3 1058.8 L582.1 1057.5 L584.8 1056.3 L587.5 1055.0 L590.3 1053.8 L593.0 1052.5 L595.7 1051.3 L598.5 1050.1 L601.2 1048.9 L603.9 1047.6 L606.7 1046.4 L609.4 1045.2 L612.2 1044.0 L614.9 1042.8 L617.6 1041.5 L620.4 1040.3 L623.1 1039.1 L625.9 1037.9 L628.6 1036.7 L631.4 1035.5 L634.1 1034.3 L636.9 1033.2 L639.6 1032.0 L642.4 1030.8 L645.2 1029.6 L647.9 1028.4 L650.7 1027.2 L653.4 1026.1 L656.2 1024.9 L659.0 1023.7 L661.7 1022.6 L664.5 1021.4 L667.3 1020.2 L670.0 1019.1 L672.8 1017.9 L675.6 1016.8 L678.3 1015.6 L681.1 1014.5 L683.9 1013.3 L686.7 1012.2 L689.4 1011.1 L692.2 1009.9 L695.0 1008.8 L697.8 1007.7 L700.5 1006.6 L703.3 1005.4 L706.1 1004.3 L708.9 1003.2 L711.7 1002.1 L714.5 1001.0 L717.2 999.8 L720.0 998.7 L722.8 997.6 L725.6 996.5 L728.4 995.4 L731.2 994.3 L734.0 993.2 L736.8 992.2 L739.6 991.1 L742.4 990.0 L745.2 988.9 L748.0 987.8 L750.8 986.7 L753.6 985.7 L756.4 984.6 L759.2 983.5 L762.0 982.4 L764.8 981.4 L767.6 980.3 L770.4 979.2 L773.2 978.2 L776.0 977.1 L778.8 976.1 L781.6 975.0 L784.4 974.0 L787.2 972.9 L790.0 971.9 L792.8 970.8 L795.7 969.8 L798.5 968.7 L801.3 967.7 L804.1 966.7 L806.9 965.6 L809.7 964.6 L812.5 963.6 L815.4 962.5 L818.2 961.5 L821.0 960.5 L823.8 959.4 L826.6 958.4 L829.5 957.4 L832.3 956.4 L835.1 955.4 L837.9 954.3 L840.7 953.3 L843.6 952.3 L846.4 951.3 L849.2 950.3 L852.0 949.3 L854.9 948.3 L857.7 947.3 L860.5 946.3 L863.4 945.3 L866.2 944.3 L869.0 943.3 L871.8 942.3 L874.7 941.3 L877.5 940.3 L880.3 939.3 L883.2 938.3 L886.0 937.3 L888.8 936.3 L891.7 935.3 L894.5 934.3 L897.3 933.3 L900.1 932.4 L903.0 931.4 L905.8 930.4 L908.7 929.4 L911.5 928.4 L914.3 927.4 L917.2 926.5 L920.0 925.5 L922.8 924.5 L925.7 923.5 L928.5 922.5 L931.3 921.6 L934.2 920.6 L937.0 919.6 L939.8 918.6 L942.7 917.7 L945.5 916.7 L948.4 915.7 L951.2 914.8 L954.0 913.8 L956.9 912.8 L959.7 911.8 L962.5 910.9 L965.4 909.9 L968.2 908.9 L971.1 908.0 L973.9 907.0 L976.7 906.0 L979.6 905.1 L982.4 904.1 L985.3 903.1 L988.1 902.1 L990.9 901.2 L993.8 900.2 L996.6 899.2 L999.5 898.3 L1002.3 897.3 L1005.1 896.3 L1008.0 895.4 L1010.8 894.4 L1013.7 893.4 L1016.5 892.5 L1019.3 891.5 L1022.2 890.5 L1025.0 889.6 L1027.9 888.6 L1030.7 887.6 L1033.5 886.7 L1036.4 885.7 L1039.2 884.7 L1042.0 883.7 L1044.9 882.8 L1047.7 881.8 L1050.6 880.8 L1053.4 879.9 L1056.2 878.9 L1059.1 877.9 L1061.9 876.9 L1064.8 876.0 L1067.6 875.0 L1070.4 874.0 L1073.3 873.0 L1076.1 872.1 L1078.9 871.1 L1081.8 870.1 L1084.6 869.1 L1087.4 868.1 L1090.3 867.2 L1093.1 866.2 L1095.9 865.2 L1098.8 864.2 L1101.6 863.2 L1104.5 862.2 L1107.3 861.3 L1110.1 860.3 L1113.0 859.3 L1115.8 858.3 L1118.6 857.3 L1121.5 856.3 L1124.3 855.3 L1127.1 854.3 L1129.9 853.4 L1132.8 852.4 L1135.6 851.4 L1138.4 850.4 L1141.3 849.4 L1144.1 848.4 L1146.9 847.4 L1149.8 846.4 L1152.6 845.4 L1155.4 844.4 L1158.2 843.4 L1161.1 842.4 L1163.9 841.4 L1166.7 840.4 L1169.6 839.4 L1172.4 838.4 L1175.2 837.4 L1178.0 836.4 L1180.9 835.4 L1183.7 834.4 L1186.5 833.3 L1189.3 832.3 L1192.2 831.3 L1195.0 830.3 L1197.8 829.3 L1200.6 828.3 L1203.5 827.3 L1206.3 826.3 L1209.1 825.2 L1211.9 824.2 L1214.7 823.2 L1217.6 822.2 L1220.4 821.2 L1223.2 820.1 L1226.0 819.1 L1228.9 818.1 L1231.7 817.1 L1234.5 816.0 L1237.3 815.0 L1240.1 814.0 L1242.9 812.9 L1245.8 811.9 L1248.6 810.9 L1251.4 809.8 L1254.2 808.8 L1257.0 807.8 L1259.8 806.7 L1262.7 805.7 L1265.5 804.6 L1268.3 803.6 L1271.1 802.6 L1273.9 801.5 L1276.7 800.5 L1279.5 799.4 L1282.3 798.4 L1285.1 797.3 L1288.0 796.3 L1290.8 795.2 L1293.6 794.2 L1296.4 793.1 L1299.2 792.0 L1302.0 791.0 L1304.8 789.9 L1307.6 788.9 L1310.4 787.8 L1313.2 786.7 L1316.0 785.7 L1318.8 784.6 L1321.6 783.5 L1324.4 782.5 L1327.2 781.4 L1330.0 780.3 L1332.8 779.3 L1335.6 778.2 L1338.4 777.1 L1341.2 776.0 L1344.0 774.9 L1346.8 773.9 L1349.6 772.8 L1352.4 771.7 L1355.2 770.6 L1358.0 769.5 L1360.8 768.4 L1363.6 767.3 L1366.4 766.2 L1369.2 765.2 L1372.0 764.1 L1374.8 763.0 L1377.6 761.9 L1380.4 760.8 L1383.2 759.7 L1386.0 758.6 L1388.8 757.5 L1391.5 756.3 L1394.3 755.2 L1397.1 754.1 L1399.9 753.0 L1402.7 751.9 L1405.5 750.8 L1408.3 749.7 L1411.0 748.6 L1413.8 747.4 L1416.6 746.3 L1419.4 745.2 L1422.2 744.1 L1425.0 742.9 L1427.7 741.8 L1430.5 740.7 L1433.3 739.5 L1436.1 738.4 L1438.8 737.2 L1441.6 736.1 L1444.4 734.9 L1447.2 733.8 L1449.9 732.6 L1452.7 731.5 L1455.5 730.3 L1458.2 729.1 L1461.0 728.0 L1463.7 726.8 L1466.5 725.6 L1469.2 724.4 L1472.0 723.2 L1474.8 722.0 L1477.5 720.8 L1480.3 719.6 L1483.0 718.4 L1485.7 717.2 L1488.5 715.9 L1491.2 714.7 L1494.0 713.5 L1496.7 712.2 L1499.4 711.0 L1502.1 709.7 L1504.9 708.5 L1507.6 707.2 L1510.3 705.9 L1513.0 704.7 L1515.7 703.4 L1518.5 702.1 L1521.2 700.8 L1523.9 699.6 L1526.6 698.3 L1529.3 697.0 L1532.0 695.7 L1534.7 694.4 L1537.4 693.1 L1540.1 691.8 L1542.8 690.5 L1545.6 689.2 L1548.3 687.9 L1551.0 686.7 L1553.7 685.4 L1556.4 684.1 L1559.1 682.8 L1561.8 681.5 L1564.5 680.2 L1567.2 678.9 L1569.9 677.7 L1572.7 676.4 L1575.4 675.1 L1578.1 673.8 L1580.8 672.6 L1583.5 671.3 L1586.2 670.0 L1589.0 668.8 L1591.7 667.5 L1594.4 666.2 L1597.1 665.0 L1599.8 663.7 L1602.6 662.4 L1605.3 661.2 L1608.0 659.9 L1610.7 658.7 L1613.5 657.4 L1616.2 656.2 L1618.9 654.9 L1621.6 653.7 L1624.4 652.4 L1627.1 651.1 L1629.8 649.9 L1632.5 648.6 L1635.3 647.4 L1638.0 646.1 L1640.7 644.9 L1643.4 643.6 L1646.2 642.4 L1648.9 641.2 L1651.6 639.9 L1654.4 638.7 L1657.1 637.4 L1659.8 636.2 L1662.5 634.9 L1665.3 633.7 L1668.0 632.4 L1670.7 631.2 L1673.5 629.9 L1676.2 628.7 L1678.9 627.4 L1681.6 626.2 L1684.4 624.9 L1687.1 623.6 L1689.8 622.4 L1692.5 621.1 L1695.3 619.9 L1698.0 618.6 L1700.7 617.4 L1703.4 616.1 L1706.1 614.8 L1708.9 613.6 L1711.6 612.3 L1714.3 611.0 L1717.0 609.8 L1719.8 608.5 L1722.5 607.2 L1725.2 606.0 L1727.9 604.7 L1730.6 603.4 L1733.3 602.1 L1736.0 600.9 L1738.8 599.6 L1741.5 598.3 L1744.2 597.0 L1746.9 595.7 L1749.6 594.4 L1752.3 593.1 L1755.0 591.8 L1757.7 590.6 L1760.4 589.3 L1763.1 587.9 L1765.8 586.6 L1768.5 585.3 L1771.2 584.0 L1773.9 582.7 L1776.6 581.4 L1779.3 580.1 L1782.0 578.8 L1784.7 577.4 L1787.4 576.1 L1790.1 574.8 L1792.8 573.4 L1795.5 572.1 L1798.2 570.8 L1800.8 569.4 L1803.5 568.1 L1806.2 566.7 L1808.9 565.4 L1811.6 564.0 L1814.2 562.6 L1816.9 561.3 L1819.6 559.9 L1822.2 558.5 L1824.9 557.2 L1827.6 555.8 L1830.2 554.4 L1832.9 553.0 L1835.6 551.6 L1838.2 550.2 L1840.9 548.8 L1843.5 547.4 L1846.2 546.0 L1848.8 544.6 L1851.5 543.2 L1854.1 541.8 L1856.7 540.3 L1859.4 538.9 L1862.0 537.5 L1864.7 536.0 L1867.3 534.6 L1869.9 533.2 L1872.5 531.7 L1875.2 530.2 L1877.8 528.8 L1880.4 527.3 L1883.0 525.8 L1885.6 524.4 L1888.3 522.9 L1890.9 521.4 L1893.5 519.9 L1896.1 518.4 L1898.6 516.9 L1901.2 515.3 L1903.8 513.8 L1906.4 512.2 L1908.9 510.6 L1911.5 509.0 L1914.0 507.4 L1916.5 505.8 L1919.0 504.1 L1921.5 502.4 L1924.0 500.8 L1926.5 499.0 L1929.0 497.3 L1931.4 495.6 L1933.8 493.8 L1936.3 492.0 L1938.7 490.2 L1941.0 488.3 L1943.4 486.5 L1945.7 484.6 L1948.1 482.7 L1950.4 480.7 L1952.7 478.8 L1955.0 476.8 L1957.2 474.8 L1959.5 472.8 L1961.7 470.8 L1963.9 468.7 L1966.0 466.6 L1968.2 464.5 L1970.3 462.4 L1972.5 460.2 L1974.6 458.1 L1975.5 457.1" fill="none" stroke="#f0291b" stroke-width="10.8" stroke-dasharray="57 14 10.5 13.08" stroke-dashoffset="-1.1"/>
<rect x="295.5" y="69.5" width="1314.5" height="415" fill="#fdfdfd" stroke="#1e1e1e" stroke-width="5"/>
<line x1="320.7" y1="116.5" x2="493.7" y2="116.5" stroke="#00a650" stroke-width="11.5"/>
<path d="M321 221H380.3M391.9 221H404.5M416.2 221H475.3M487.4 221H494.2" stroke="#f0291b" stroke-width="12" fill="none"/>
<path d="M321 325H380.5M416 325H475.6" stroke="#3f2696" stroke-width="12" fill="none"/>
<path d="M321 430.8H380.5M391.5 430.8H404.5M416 430.8H429M439 430.8H494" stroke="#111111" stroke-width="11.5" fill="none"/>
<path d="M295.5 1218.5V69.5H1995V1218.5Z" fill="none" stroke="#0a0a0a" stroke-width="4.5"/>
<text transform="translate(112,1108) rotate(-90)" x="-1.7" y="0" font-size="91" textLength="915.0" lengthAdjust="spacingAndGlyphs">increase in temperature [K]</text>
<text x="523.8" y="136.5" font-size="86.0" textLength="379.0" lengthAdjust="spacingAndGlyphs">temperature</text>
<text x="921.9" y="136.5" font-size="86.0" textLength="60.3" lengthAdjust="spacingAndGlyphs">in</text>
<text x="1002.6" y="136.5" font-size="86.0" textLength="195.4" lengthAdjust="spacingAndGlyphs">centre</text>
<text x="1216.6" y="136.5" font-size="86.0" textLength="72.8" lengthAdjust="spacingAndGlyphs">of</text>
<text x="1301.4" y="136.5" font-size="86.0" textLength="300.0" lengthAdjust="spacingAndGlyphs">specimen</text>
<text x="518.8" y="240.5" font-size="86.0" textLength="230.0" lengthAdjust="spacingAndGlyphs">surface</text>
<text x="774.6" y="240.5" font-size="86.0" textLength="377.3" lengthAdjust="spacingAndGlyphs">temperature</text>
<text x="1178.1" y="240.5" font-size="86.0" textLength="61.4" lengthAdjust="spacingAndGlyphs">in</text>
<text x="1259.7" y="240.5" font-size="86.0" textLength="194.5" lengthAdjust="spacingAndGlyphs">centre</text>
<text x="518.8" y="344.5" font-size="86.0" textLength="230.1" lengthAdjust="spacingAndGlyphs">surface</text>
<text x="776.6" y="344.5" font-size="86.0" textLength="376.3" lengthAdjust="spacingAndGlyphs">temperature</text>
<text x="1176.3" y="344.5" font-size="86.0" textLength="79.5" lengthAdjust="spacingAndGlyphs">on</text>
<text x="1275.4" y="344.5" font-size="86.0" textLength="220.5" lengthAdjust="spacingAndGlyphs">bottem</text>
<text x="518.8" y="450.2" font-size="86.0" textLength="230.1" lengthAdjust="spacingAndGlyphs">surface</text>
<text x="781.7" y="450.2" font-size="86.0" textLength="376.3" lengthAdjust="spacingAndGlyphs">temperature</text>
<text x="1176.3" y="450.2" font-size="86.0" textLength="79.5" lengthAdjust="spacingAndGlyphs">on</text>
<text x="1277.4" y="450.2" font-size="86.0" textLength="101.2" lengthAdjust="spacingAndGlyphs">top</text>
<text x="796.3" y="1441.2" font-size="86.0" textLength="255.9" lengthAdjust="spacingAndGlyphs">number</text>
<text x="1073.2" y="1441.2" font-size="86.0" textLength="78.9" lengthAdjust="spacingAndGlyphs">of</text>
<text x="1165.2" y="1441.2" font-size="86.0" textLength="209.4" lengthAdjust="spacingAndGlyphs">cycles</text>
<text x="1839.6" y="1446.0" font-size="86.0" textLength="41.4" lengthAdjust="spacingAndGlyphs">x</text>
<text x="1886.9" y="1446.0" font-size="86.0" textLength="29.6" lengthAdjust="spacingAndGlyphs">1</text>
<text x="1924.5" y="1446.0" font-size="86.0" textLength="39.7" lengthAdjust="spacingAndGlyphs">0</text>
<text x="1955.2" y="1404.0" font-size="64.0" textLength="26.8" lengthAdjust="spacingAndGlyphs">4</text>
<text x="269.1" y="1327.6" font-size="89.0" textLength="44.5" lengthAdjust="spacingAndGlyphs">0</text>
<text x="528.4" y="1327.6" font-size="89.0" textLength="32.4" lengthAdjust="spacingAndGlyphs">1</text>
<text x="766.9" y="1327.6" font-size="89.0" textLength="46.2" lengthAdjust="spacingAndGlyphs">2</text>
<text x="1005.8" y="1327.6" font-size="89.0" textLength="44.0" lengthAdjust="spacingAndGlyphs">3</text>
<text x="1248.6" y="1327.6" font-size="89.0" textLength="42.2" lengthAdjust="spacingAndGlyphs">4</text>
<text x="1493.1" y="1327.6" font-size="89.0" textLength="44.9" lengthAdjust="spacingAndGlyphs">5</text>
<text x="1736.9" y="1327.6" font-size="89.0" textLength="43.0" lengthAdjust="spacingAndGlyphs">6</text>
<text x="1969.2" y="1327.6" font-size="89.0" textLength="48.2" lengthAdjust="spacingAndGlyphs">7</text>
<text x="168.3" y="101.1" font-size="89.0" textLength="83.5" lengthAdjust="spacingAndGlyphs">50</text>
<text x="169.3" y="324.5" font-size="89.0" textLength="85.0" lengthAdjust="spacingAndGlyphs">40</text>
<text x="169.2" y="548.7" font-size="89.0" textLength="82.2" lengthAdjust="spacingAndGlyphs">30</text>
<text x="168.5" y="789.0" font-size="89.0" textLength="86.8" lengthAdjust="spacingAndGlyphs">20</text>
<text x="167.0" y="1018.0" font-size="89.0" textLength="84.5" lengthAdjust="spacingAndGlyphs">10</text>
<text x="189.6" y="1234.5" font-size="89.0" textLength="43.8" lengthAdjust="spacingAndGlyphs">0</text>
</svg></body></html>
